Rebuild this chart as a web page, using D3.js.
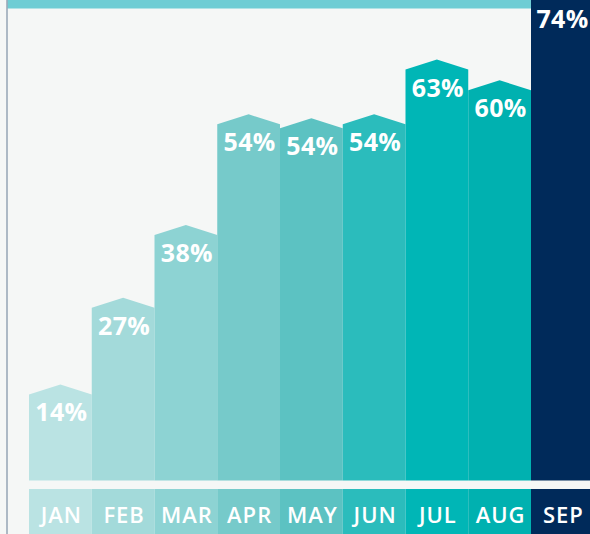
<!DOCTYPE html>
<html>
<head>
<meta charset="utf-8">
<script src="https://cdn.jsdelivr.net/npm/d3@7/dist/d3.min.js"></script>
<style>
  html, body { margin: 0; padding: 0; background: #f5f7f6; }
  svg { display: block; }
</style>
</head>
<body>
<svg id="chart" width="590" height="534"></svg>
<script>
// ---- data ----
const months = ["JAN", "FEB", "MAR", "APR", "MAY", "JUN", "JUL", "AUG", "SEP"];
const values = [14.4, 27.4, 38.3, 54.9, 54.3, 54.9, 63.1, 60.0, 74.0];
const labels = ["14%", "27%", "38%", "54%", "54%", "54%", "63%", "60%", "74%"];
const colors = ["#bae3e3", "#a3dada", "#8dd3d3", "#76caca", "#5cc2c2", "#2bbcbc", "#00b6b6", "#00b1b0", "#002a5a"];

// ---- layout ----
const W = 590, H = 534;
const svg = d3.select("#chart");
const barBottom = 480.5;
const labelTop = 489;
const peakDrop = 10;

const x = d3.scaleBand().domain(months).range([29, 29 + 62.75 * 9]).padding(0);
const y = d3.scaleLinear().domain([0, 100]).range([barBottom, barBottom - 667]);

svg.append("rect").attr("width", W).attr("height", H).attr("fill", "#f5f7f6");

// top band
svg.append("rect")
  .attr("x", 7.5).attr("y", 0)
  .attr("width", x("SEP") - 7.5).attr("height", 8.5)
  .attr("fill", "#6fcdd4");

// left rule
svg.append("line")
  .attr("x1", 7).attr("x2", 7).attr("y1", 0).attr("y2", H)
  .attr("stroke", "#7d8fa5").attr("stroke-width", 1.2);

const data = months.map((m, i) => ({ m, v: values[i], label: labels[i], c: colors[i] }));

// bars with pointed tops
svg.append("g").selectAll("path").data(data).join("path")
  .attr("d", d => {
    const x0 = x(d.m), x1 = x(d.m) + x.bandwidth(), xc = (x0 + x1) / 2;
    const py = y(d.v);
    return `M${x0},${barBottom}L${x0},${py + peakDrop}L${xc},${py}L${x1},${py + peakDrop}L${x1},${barBottom}Z`;
  })
  .attr("fill", d => d.c);

// value labels
const vl = svg.append("g").selectAll("text").data(data).join("text")
  .attr("x", d => x(d.m) + x.bandwidth() / 2 + 1)
  .attr("y", d => y(d.v) + 37)
  .attr("text-anchor", "middle")
  .attr("fill", "#ffffff")
  .attr("font-family", "'Open Sans', Lato, sans-serif")
  .attr("font-weight", 700)
  .attr("font-size", 25)
  .attr("letter-spacing", 0.3)
  .text(d => d.label);

// keep labels inside the picture
vl.each(function() {
  const sel = d3.select(this);
  const b = this.getBBox();
  const overR = b.x + b.width - (W - 1.5);
  if (overR > 0) sel.attr("x", +sel.attr("x") - overR);
  if (b.y < 0.5) sel.attr("y", +sel.attr("y") + (0.5 - b.y));
});

// month label boxes
svg.append("g").selectAll("rect").data(data).join("rect")
  .attr("x", d => x(d.m)).attr("y", labelTop)
  .attr("width", x.bandwidth()).attr("height", H - labelTop)
  .attr("fill", d => d.c);

svg.append("g").selectAll("text").data(data).join("text")
  .attr("x", d => x(d.m) + x.bandwidth() / 2 + 1)
  .attr("y", 522.5)
  .attr("text-anchor", "middle")
  .attr("fill", "#ffffff")
  .attr("font-family", "'Open Sans', Lato, sans-serif")
  .attr("font-weight", 600)
  .attr("font-size", 22)
  .attr("letter-spacing", 1)
  .text(d => d.m);
</script>
</body>
</html>
